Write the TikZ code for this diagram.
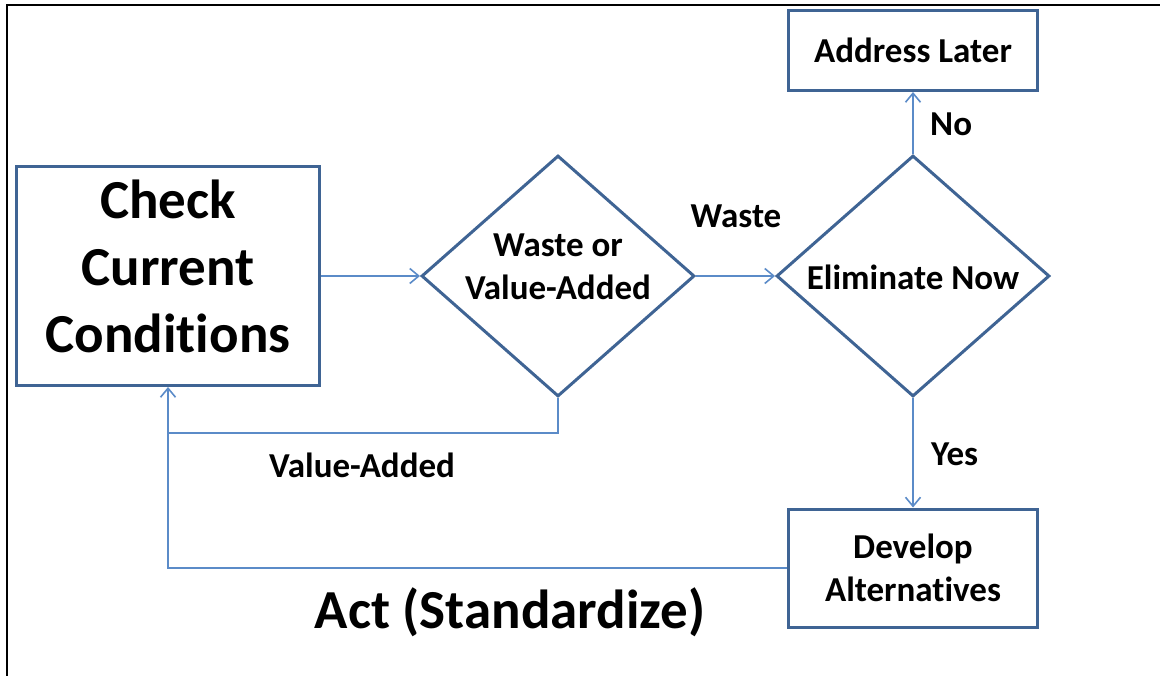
\documentclass[tikz,border=0pt]{standalone}
\usepackage{fontspec}
\setmainfont{Carlito}[Ligatures=NoCommon]
\usetikzlibrary{shapes.geometric,arrows.meta}
\definecolor{boxblue}{HTML}{3F6494}
\definecolor{lineblue}{HTML}{5B8BC8}
\tikzset{
  box/.style={draw=boxblue, line width=3pt, rectangle, inner sep=0pt, align=center},
  dia/.style={draw=boxblue, line width=3pt, diamond, inner sep=0pt, minimum width=273pt, minimum height=241pt},
  txt/.style={inner sep=0pt, align=center, font=\fontsize{35}{42.7}\selectfont\bfseries},
  big/.style={inner sep=0pt, align=center, font=\fontsize{55}{67}\selectfont\bfseries},
  conn/.style={draw=lineblue, line width=1.6pt, -{Straight Barb[length=9pt,width=15pt,line width=1.6pt]}},
  plain/.style={draw=lineblue, line width=1.6pt},
}
\begin{document}
\begin{tikzpicture}[x=1pt,y=-1pt]
\useasboundingbox (0,0) rectangle (1160,676);
% frame
\draw[line width=2pt, black] (7,676) -- (7,5) -- (1160,5);
% nodes
\node[box, minimum width=303pt, minimum height=219pt] (check) at (168,276) {};
\node[big] (checkt) at (168,266) {Check\\Current\\Conditions};
\node[dia] (d1) at (558,276) {};
\node[txt] (d1t) at (558,267) {Waste or\\Value-Added};
\node[dia] (d2) at (913,276) {};
\node[txt] (d2t) at (913,277) {Eliminate Now};
\node[box, minimum width=249pt, minimum height=80pt, font=\fontsize{35}{42.7}\selectfont\bfseries] (later) at (913,50.5) {Address Later};
\node[box, minimum width=249pt, minimum height=118pt, font=\fontsize{35}{42.7}\selectfont\bfseries] (dev) at (913,568) {Develop\\Alternatives};
% labels
\node[txt, anchor=base] (lwaste) at (736,228) {Waste};
\node[txt, anchor=base west] (lno) at (930,136) {No};
\node[txt, anchor=base west] (lyes) at (931,465) {Yes};
\node[txt, anchor=base] (lva) at (362,477) {Value-Added};
\node[big, anchor=base] (act) at (510,628) {Act (Standardize)};
% connectors
\coordinate (j) at (168,433);
\draw[conn] (check.east) -- (d1.west);
\draw[conn] (d1.east) -- (d2.west);
\draw[conn] (d2.north) -- (later.south);
\draw[conn] (d2.south) -- (dev.north);
\draw[conn] (d1.south) |- (j) -- (check.south);
\draw[plain] (dev.west) -| (j);
\end{tikzpicture}
\end{document}
